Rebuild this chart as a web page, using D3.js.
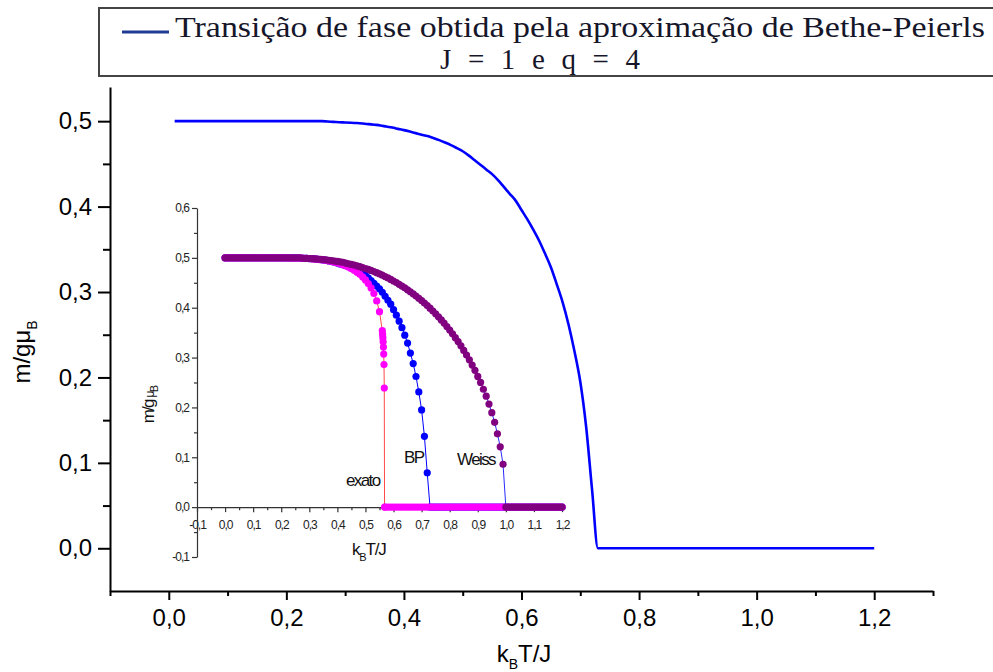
<!DOCTYPE html>
<html>
<head>
<meta charset="utf-8">
<script src="https://cdn.jsdelivr.net/npm/d3@7"></script>
<style>
  body { margin: 0; background: #fff; }
  svg { display: block; font-family: Arial, "Liberation Sans", sans-serif; }
  .main-axis path, .main-axis line { stroke: #000; stroke-width: 2; }
  .main-axis text { font-size: 24px; fill: #000; }
  .inset-axis path, .inset-axis line { stroke: #333; stroke-width: 1.2; }
  .inset-axis text { font-size: 12px; fill: #222; letter-spacing: -1px; }
</style>
</head>
<body>
<svg id="chart" width="993" height="672"></svg>
<script>

// temperaturas k_B T / J (passo 0,01)
let kT = [
  0.00, 0.01, 0.02, 0.03, 0.04, 0.05, 0.06, 0.07, 0.08, 0.09,
  0.10, 0.11, 0.12, 0.13, 0.14, 0.15, 0.16, 0.17, 0.18, 0.19,
  0.20, 0.21, 0.22, 0.23, 0.24, 0.25, 0.26, 0.27, 0.28, 0.29,
  0.30, 0.31, 0.32, 0.33, 0.34, 0.35, 0.36, 0.37, 0.38, 0.39,
  0.40, 0.41, 0.42, 0.43, 0.44, 0.45, 0.46, 0.47, 0.48, 0.49,
  0.50, 0.51, 0.52, 0.53, 0.54, 0.55, 0.56, 0.57, 0.58, 0.59,
  0.60, 0.61, 0.62, 0.63, 0.64, 0.65, 0.66, 0.67, 0.68, 0.69,
  0.70, 0.71, 0.72, 0.73, 0.74, 0.75, 0.76, 0.77, 0.78, 0.79,
  0.80, 0.81, 0.82, 0.83, 0.84, 0.85, 0.86, 0.87, 0.88, 0.89,
  0.90, 0.91, 0.92, 0.93, 0.94, 0.95, 0.96, 0.97, 0.98, 0.99,
  1.00, 1.01, 1.02, 1.03, 1.04, 1.05, 1.06, 1.07, 1.08, 1.09,
  1.10, 1.11, 1.12, 1.13, 1.14, 1.15, 1.16, 1.17, 1.18, 1.19,
  1.20
];

// Weiss (campo medio)
let weiss = [
  0.5, 0.5, 0.5, 0.5, 0.5, 0.5, 0.5, 0.5, 0.5, 0.5,
  0.5, 0.5, 0.5, 0.5, 0.5, 0.5, 0.5, 0.5, 0.5, 0.5,
  0.5, 0.5, 0.5, 0.5, 0.5, 0.5, 0.5, 0.5, 0.4990, 0.4988,
  0.4987, 0.4983, 0.4980, 0.4975, 0.4970, 0.4965, 0.4960, 0.4952, 0.4945, 0.4937,
  0.4928, 0.4920, 0.4910, 0.4895, 0.4882, 0.4869, 0.4855, 0.4840, 0.4823, 0.4806,
  0.4787, 0.4767, 0.4747, 0.4724, 0.4702, 0.4677, 0.4652, 0.4624, 0.4597, 0.4567,
  0.4536, 0.4504, 0.4469, 0.4434, 0.4399, 0.4359, 0.4320, 0.4278, 0.4234, 0.4190,
  0.4143, 0.4094, 0.4043, 0.3990, 0.3934, 0.3877, 0.3817, 0.3755, 0.3691, 0.3623,
  0.3552, 0.3477, 0.3400, 0.3320, 0.3235, 0.3143, 0.3050, 0.2954, 0.2849, 0.2744,
  0.2622, 0.2502, 0.2365, 0.2225, 0.2068, 0.1894, 0.1702, 0.1470, 0.1210, 0.0860,
  0, 0, 0, 0, 0, 0, 0, 0, 0, 0,
  0, 0, 0, 0, 0, 0, 0, 0, 0, 0,
  0
];

// Bethe-Peierls (BP)
let bp = [
  0.5, 0.5, 0.5, 0.5, 0.5, 0.5, 0.5, 0.5, 0.5, 0.5,
  0.5, 0.5, 0.5, 0.5, 0.5, 0.5, 0.5, 0.5, 0.5, 0.5,
  0.5, 0.5, 0.5, 0.5, 0.5, 0.5, 0.5, 0.4996, 0.4992, 0.4988,
  0.4985, 0.4982, 0.4978, 0.4972, 0.4965, 0.4958, 0.4950, 0.4937, 0.4925, 0.4910,
  0.4895, 0.4878, 0.4860, 0.4842, 0.4825, 0.4802, 0.4778, 0.4750, 0.4720, 0.4685,
  0.4648, 0.4600, 0.4545, 0.4490, 0.4435, 0.4380, 0.4310, 0.4230, 0.4150, 0.4070,
  0.3960, 0.3850, 0.3730, 0.3600, 0.3450, 0.3290, 0.3090, 0.2880, 0.2620, 0.2310,
  0.1950, 0.1420, 0.0690, 0, 0, 0, 0, 0, 0, 0,
  0, 0, 0, 0, 0, 0, 0, 0, 0, 0,
  0, 0, 0, 0, 0, 0, 0, 0, 0, 0,
  0, 0, 0, 0, 0, 0, 0, 0, 0, 0,
  0, 0, 0, 0, 0, 0, 0, 0, 0, 0,
  0
];

// exato (Onsager)
let exato = [
  0.5, 0.5, 0.5, 0.5, 0.5, 0.5, 0.5, 0.5, 0.5, 0.5,
  0.5, 0.5, 0.5, 0.5, 0.5, 0.5, 0.5, 0.5, 0.5, 0.5,
  0.5, 0.5, 0.5, 0.4998, 0.4997, 0.4996, 0.4995, 0.4993, 0.4991, 0.4988,
  0.4985, 0.4981, 0.4977, 0.4971, 0.4964, 0.4957, 0.4948, 0.4938, 0.4927, 0.4913,
  0.4898, 0.4881, 0.4861, 0.4839, 0.4813, 0.4784, 0.4751, 0.4713, 0.4669, 0.4617,
  0.4557, 0.4484, 0.4396, 0.4285, 0.4137, 0.3920, 0.3540, 0, 0, 0,
  0, 0, 0, 0, 0, 0, 0, 0, 0, 0,
  0, 0, 0, 0, 0, 0, 0, 0, 0, 0,
  0, 0, 0, 0, 0, 0, 0, 0, 0, 0,
  0, 0, 0, 0, 0, 0, 0, 0, 0, 0,
  0, 0, 0, 0, 0, 0, 0, 0, 0, 0,
  0, 0, 0, 0, 0, 0, 0, 0, 0, 0,
  0
];
// pontos extra perto de Tc (exato)
let kTcrit = [0.561, 0.562, 0.563, 0.564, 0.565, 0.566, 0.567, 0.568];
let exatoCrit = [0.347, 0.340, 0.3315, 0.321, 0.307, 0.286, 0.239, 0];

// ticks
let mainXMajor = [0, 0.2, 0.4, 0.6, 0.8, 1.0, 1.2];
let mainXMinor = [-0.1, 0.1, 0.3, 0.5, 0.7, 0.9, 1.1, 1.3];
let mainYMajor = [0, 0.1, 0.2, 0.3, 0.4, 0.5];
let mainYMinor = [0.05, 0.15, 0.25, 0.35, 0.45];
let insetXMajor = [-0.1, 0, 0.1, 0.2, 0.3, 0.4, 0.5, 0.6, 0.7, 0.8, 0.9, 1.0, 1.1, 1.2];
let insetXMinor = [-0.05, 0.05, 0.15, 0.25, 0.35, 0.45, 0.55, 0.65, 0.75, 0.85, 0.95, 1.05, 1.15];
let insetYMajor = [-0.1, 0, 0.1, 0.2, 0.3, 0.4, 0.5, 0.6];
let insetYMinor = [-0.05, 0.05, 0.15, 0.25, 0.35, 0.45, 0.55];

let legendText = "Transição de fase obtida pela aproximação de Bethe-Peierls";
let legendText2 = "J = 1 e q = 4";

let virgula = function (d) {
    return d3.format(".1f")(d).replace(".", ",").replace("\u2212", "-");
};

let svg = d3.select("#chart");

/* Legenda (caixa no topo) */
let leg = svg.append("g");
leg.append("path")
    .attr("d", "M1000,8 H99 V76 H1000")
    .attr("fill", "none")
    .attr("stroke", "#444")
    .attr("stroke-width", 2);
leg.append("line")
    .attr("x1", 122).attr("x2", 169)
    .attr("y1", 32).attr("y2", 32)
    .attr("stroke", "#1f3a93")
    .attr("stroke-width", 3);
leg.append("text")
    .attr("x", 175).attr("y", 37)
    .attr("textLength", 810)
    .attr("lengthAdjust", "spacingAndGlyphs")
    .attr("font-family", "Liberation Serif, Times New Roman, serif")
    .style("font-size", "29px")
    .attr("fill", "#16162a")
    .text(legendText);
leg.append("text")
    .attr("x", 440).attr("y", 69)
    .attr("textLength", 200)
    .attr("lengthAdjust", "spacing")
    .attr("font-family", "Liberation Serif, Times New Roman, serif")
    .style("font-size", "29px")
    .attr("fill", "#16162a")
    .text(legendText2);

/* Grafico principal */
let x = d3.scaleLinear().domain([-0.1, 1.3]).range([110, 933]);
let y = d3.scaleLinear().domain([-0.05, 0.54]).range([591, 87]);

svg.append("g")
    .attr("class", "main-axis")
    .attr("transform", "translate(0,591)")
    .call(d3.axisBottom(x).tickValues(mainXMajor).tickSize(9).tickSizeOuter(0)
        .tickPadding(9).tickFormat(virgula));
svg.append("g")
    .attr("class", "main-axis")
    .attr("transform", "translate(0,591)")
    .call(d3.axisBottom(x).tickValues(mainXMinor).tickSize(5).tickSizeOuter(0).tickFormat(""))
    .select(".domain").remove();

svg.append("g")
    .attr("class", "main-axis")
    .attr("transform", "translate(110,0)")
    .call(d3.axisLeft(y).tickValues(mainYMajor).tickSize(12).tickSizeOuter(0)
        .tickPadding(6).tickFormat(virgula));
svg.append("g")
    .attr("class", "main-axis")
    .attr("transform", "translate(110,0)")
    .call(d3.axisLeft(y).tickValues(mainYMinor).tickSize(7).tickSizeOuter(0).tickFormat(""))
    .select(".domain").remove();

// rotulos dos eixos
let xl = svg.append("text")
    .attr("x", 524).attr("y", 662)
    .attr("text-anchor", "middle")
    .style("font-size", "24px");
xl.append("tspan").text("k");
xl.append("tspan").attr("dy", 7).style("font-size", "14px").text("B");
xl.append("tspan").attr("dy", -7).text("T/J");

let yl = svg.append("text")
    .attr("transform", "translate(30,352) rotate(-90)")
    .attr("text-anchor", "middle")
    .style("font-size", "24px");
yl.append("tspan").text("m/gμ");
yl.append("tspan").attr("dy", 7).style("font-size", "14px").text("B");

// curva principal (BP)
let mainData = kT.map(function (t, i) { return [t, bp[i]]; })
    .filter(function (d) { return d[0] > 0; });
svg.append("path")
    .datum(mainData)
    .attr("fill", "none")
    .attr("stroke", "#0000ff")
    .attr("stroke-width", 2.6)
    .attr("stroke-linejoin", "round")
    .attr("d", d3.line()
        .curve(d3.curveMonotoneX)
        .x(function (d) { return x(d[0]); })
        .y(function (d) { return y(d[1]); }));

/* Inset */
let xi = d3.scaleLinear().domain([-0.1, 1.2]).range([197, 562]);
let yi = d3.scaleLinear().domain([-0.1, 0.6]).range([557, 208]);

svg.append("g")
    .attr("class", "inset-axis")
    .attr("transform", "translate(0," + yi(0) + ")")
    .call(d3.axisBottom(xi).tickValues(insetXMajor).tickSize(5).tickSizeOuter(0)
        .tickPadding(8).tickFormat(virgula));
svg.append("g")
    .attr("class", "inset-axis")
    .attr("transform", "translate(0," + yi(0) + ")")
    .call(d3.axisBottom(xi).tickValues(insetXMinor).tickSize(3).tickSizeOuter(0).tickFormat(""))
    .select(".domain").remove();
svg.append("g")
    .attr("class", "inset-axis")
    .attr("transform", "translate(197,0)")
    .call(d3.axisLeft(yi).tickValues(insetYMajor).tickSize(5).tickSizeOuter(0)
        .tickPadding(3).tickFormat(virgula));
svg.append("g")
    .attr("class", "inset-axis")
    .attr("transform", "translate(197,0)")
    .call(d3.axisLeft(yi).tickValues(insetYMinor).tickSize(3).tickSizeOuter(0).tickFormat(""))
    .select(".domain").remove();

let xli = svg.append("text")
    .attr("x", 352).attr("y", 555)
    .style("font-size", "17px")
    .style("letter-spacing", "-1.2px")
    .attr("fill", "#111");
xli.append("tspan").text("k");
xli.append("tspan").attr("dy", 6).style("font-size", "11px").text("B");
xli.append("tspan").attr("dy", -6).text("T/J");

let yli = svg.append("text")
    .attr("transform", "translate(154,405) rotate(-90)")
    .attr("text-anchor", "middle")
    .style("font-size", "17px")
    .style("letter-spacing", "-1.8px")
    .attr("fill", "#111");
yli.append("tspan").text("m/g ");
yli.append("tspan").style("font-size", "12px").text(" μ");
yli.append("tspan").attr("dy", 4).style("font-size", "11px").text("B");

// series do inset
let bpData = kT.map(function (t, i) { return [t, bp[i]]; });
let exatoData = kT.map(function (t, i) { return [t, exato[i]]; })
    .filter(function (d) { return d[0] < 0.561 || d[0] > 0.568; })
    .concat(kTcrit.map(function (t, i) { return [t, exatoCrit[i]]; }))
    .sort(function (a, b) { return a[0] - b[0]; });
let weissData = kT.map(function (t, i) { return [t, weiss[i]]; });

let series = [
    { data: bpData, line: "#0000ff", dot: "#0000ff" },
    { data: exatoData, line: "#ff4a4a", dot: "#ff00ff" },
    { data: weissData, line: "#2a2aff", dot: "#800080" }
];

let lineInset = d3.line()
    .x(function (d) { return xi(d[0]); })
    .y(function (d) { return yi(d[1]); });

series.forEach(function (s) {
    svg.append("path")
        .datum(s.data)
        .attr("fill", "none")
        .attr("stroke", s.line)
        .attr("stroke-width", 1)
        .attr("d", lineInset);
    svg.append("g")
        .selectAll("circle")
        .data(s.data)
        .enter()
        .append("circle")
        .attr("cx", function (d) { return xi(d[0]); })
        .attr("cy", function (d) { return yi(d[1]); })
        .attr("r", 3.6)
        .attr("fill", s.dot);
});

// nomes das curvas
let notas = [
    { txt: "exato", x: 346, y: 486 },
    { txt: "BP", x: 404, y: 463 },
    { txt: "Weiss", x: 457, y: 465 }
];
svg.selectAll(".nota")
    .data(notas)
    .enter()
    .append("text")
    .attr("class", "nota")
    .attr("x", function (d) { return d.x; })
    .attr("y", function (d) { return d.y; })
    .style("font-size", "17px")
    .style("letter-spacing", "-1.6px")
    .attr("fill", "#111")
    .text(function (d) { return d.txt; });

</script>
</body>
</html>
